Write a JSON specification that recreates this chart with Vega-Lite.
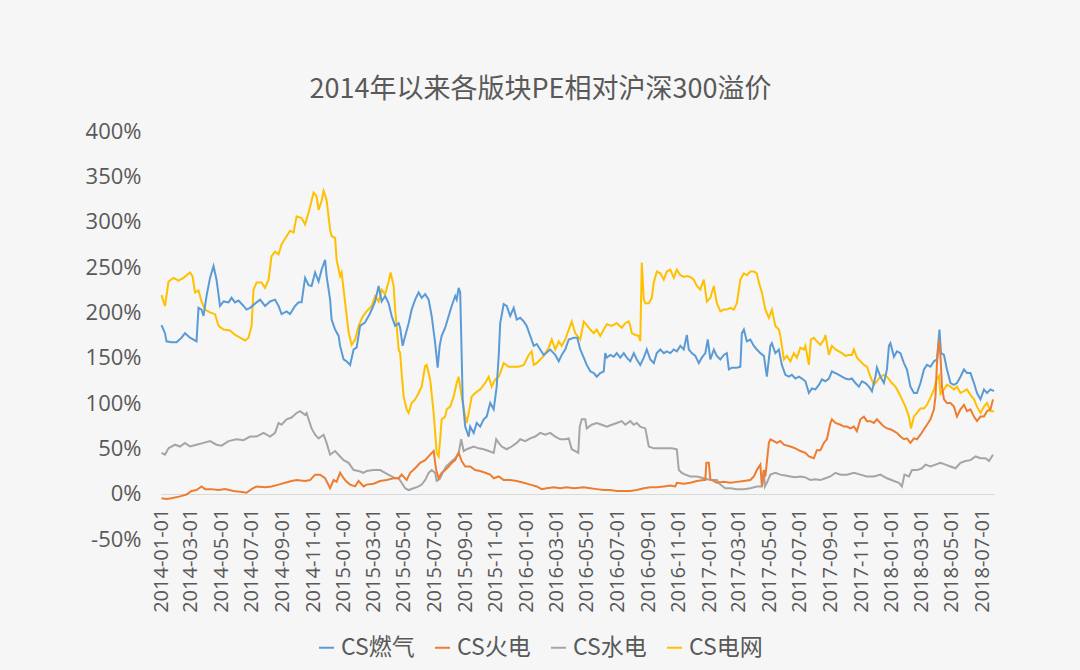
{
"$schema": "https://vega.github.io/schema/vega-lite/v6.json",
"width": 833,
"height": 408,
"autosize": {"type": "none"},
"padding": {"left": 161, "top": 131, "right": 86, "bottom": 131},
"background": "#f6f6f6",
"title": {"text": "2014年以来各版块PE相对沪深300溢价", "fontSize": 27, "font": "Noto Sans CJK SC", "fontWeight": "normal", "color": "#595959", "anchor": "middle", "dx": -37, "dy": 31, "offset": 20, "baseline": "bottom"},
"config": {"view": {"stroke": null}, "axis": {"grid": false, "ticks": false, "labelColor": "#595959"}},
"data": {"values": [
{"d":"2014-01-02","s":"CS电网","v":219},{"d":"2014-01-09","s":"CS电网","v":207},{"d":"2014-01-16","s":"CS电网","v":234},{"d":"2014-01-26","s":"CS电网","v":238},{"d":"2014-02-05","s":"CS电网","v":235},{"d":"2014-02-15","s":"CS电网","v":238},{"d":"2014-02-28","s":"CS电网","v":244},{"d":"2014-03-05","s":"CS电网","v":240},{"d":"2014-03-10","s":"CS电网","v":222},{"d":"2014-03-17","s":"CS电网","v":224},{"d":"2014-03-23","s":"CS电网","v":212},{"d":"2014-03-30","s":"CS电网","v":203},{"d":"2014-04-09","s":"CS电网","v":200},{"d":"2014-04-19","s":"CS电网","v":198},{"d":"2014-04-26","s":"CS电网","v":185},{"d":"2014-05-06","s":"CS电网","v":181},{"d":"2014-05-19","s":"CS电网","v":180},{"d":"2014-05-29","s":"CS电网","v":175},{"d":"2014-06-08","s":"CS电网","v":172},{"d":"2014-06-18","s":"CS电网","v":169},{"d":"2014-06-25","s":"CS电网","v":172},{"d":"2014-07-01","s":"CS电网","v":185},{"d":"2014-07-05","s":"CS电网","v":225},{"d":"2014-07-11","s":"CS电网","v":233},{"d":"2014-07-21","s":"CS电网","v":233},{"d":"2014-07-28","s":"CS电网","v":227},{"d":"2014-08-04","s":"CS电网","v":236},{"d":"2014-08-10","s":"CS电网","v":262},{"d":"2014-08-17","s":"CS电网","v":267},{"d":"2014-08-24","s":"CS电网","v":264},{"d":"2014-08-30","s":"CS电网","v":275},{"d":"2014-09-09","s":"CS电网","v":284},{"d":"2014-09-16","s":"CS电网","v":290},{"d":"2014-09-23","s":"CS电网","v":288},{"d":"2014-09-29","s":"CS电网","v":306},{"d":"2014-10-09","s":"CS电网","v":304},{"d":"2014-10-16","s":"CS电网","v":297},{"d":"2014-10-23","s":"CS电网","v":310},{"d":"2014-11-02","s":"CS电网","v":332},{"d":"2014-11-08","s":"CS电网","v":328},{"d":"2014-11-12","s":"CS电网","v":313},{"d":"2014-11-18","s":"CS电网","v":323},{"d":"2014-11-22","s":"CS电网","v":334},{"d":"2014-11-28","s":"CS电网","v":324},{"d":"2014-12-05","s":"CS电网","v":291},{"d":"2014-12-08","s":"CS电网","v":284},{"d":"2014-12-15","s":"CS电网","v":282},{"d":"2014-12-18","s":"CS电网","v":258},{"d":"2014-12-25","s":"CS电网","v":240},{"d":"2014-12-28","s":"CS电网","v":244},{"d":"2015-01-04","s":"CS电网","v":211},{"d":"2015-01-11","s":"CS电网","v":178},{"d":"2015-01-17","s":"CS电网","v":164},{"d":"2015-01-24","s":"CS电网","v":170},{"d":"2015-01-31","s":"CS电网","v":185},{"d":"2015-02-08","s":"CS电网","v":195},{"d":"2015-02-16","s":"CS电网","v":201},{"d":"2015-02-26","s":"CS电网","v":207},{"d":"2015-03-05","s":"CS电网","v":218},{"d":"2015-03-12","s":"CS电网","v":212},{"d":"2015-03-18","s":"CS电网","v":225},{"d":"2015-03-25","s":"CS电网","v":220},{"d":"2015-04-01","s":"CS电网","v":234},{"d":"2015-04-05","s":"CS电网","v":244},{"d":"2015-04-11","s":"CS电网","v":229},{"d":"2015-04-14","s":"CS电网","v":203},{"d":"2015-04-17","s":"CS电网","v":185},{"d":"2015-04-21","s":"CS电网","v":159},{"d":"2015-04-24","s":"CS电网","v":155},{"d":"2015-04-27","s":"CS电网","v":133},{"d":"2015-05-01","s":"CS电网","v":107},{"d":"2015-05-07","s":"CS电网","v":93},{"d":"2015-05-11","s":"CS电网","v":89},{"d":"2015-05-17","s":"CS电网","v":100},{"d":"2015-05-24","s":"CS电网","v":104},{"d":"2015-05-31","s":"CS电网","v":111},{"d":"2015-06-06","s":"CS电网","v":118},{"d":"2015-06-13","s":"CS电网","v":141},{"d":"2015-06-16","s":"CS电网","v":142},{"d":"2015-06-23","s":"CS电网","v":126},{"d":"2015-06-30","s":"CS电网","v":89},{"d":"2015-07-03","s":"CS电网","v":67},{"d":"2015-07-06","s":"CS电网","v":45},{"d":"2015-07-10","s":"CS电网","v":41},{"d":"2015-07-13","s":"CS电网","v":60},{"d":"2015-07-16","s":"CS电网","v":82},{"d":"2015-07-23","s":"CS电网","v":85},{"d":"2015-07-26","s":"CS电网","v":93},{"d":"2015-08-02","s":"CS电网","v":96},{"d":"2015-08-09","s":"CS电网","v":107},{"d":"2015-08-15","s":"CS电网","v":122},{"d":"2015-08-19","s":"CS电网","v":129},{"d":"2015-08-22","s":"CS电网","v":118},{"d":"2015-08-25","s":"CS电网","v":107},{"d":"2015-09-01","s":"CS电网","v":85},{"d":"2015-09-04","s":"CS电网","v":78},{"d":"2015-09-08","s":"CS电网","v":89},{"d":"2015-09-14","s":"CS电网","v":107},{"d":"2015-09-21","s":"CS电网","v":111},{"d":"2015-10-01","s":"CS电网","v":115},{"d":"2015-10-11","s":"CS电网","v":122},{"d":"2015-10-18","s":"CS电网","v":129},{"d":"2015-10-24","s":"CS电网","v":118},{"d":"2015-10-31","s":"CS电网","v":126},{"d":"2015-11-07","s":"CS电网","v":129},{"d":"2015-11-10","s":"CS电网","v":133},{"d":"2015-11-17","s":"CS电网","v":144},{"d":"2015-11-27","s":"CS电网","v":140},{"d":"2015-12-07","s":"CS电网","v":140},{"d":"2015-12-17","s":"CS电网","v":140},{"d":"2015-12-27","s":"CS电网","v":142},{"d":"2016-01-06","s":"CS电网","v":153},{"d":"2016-01-12","s":"CS电网","v":157},{"d":"2016-01-16","s":"CS电网","v":142},{"d":"2016-01-22","s":"CS电网","v":144},{"d":"2016-01-29","s":"CS电网","v":148},{"d":"2016-02-05","s":"CS电网","v":152},{"d":"2016-02-15","s":"CS电网","v":161},{"d":"2016-02-21","s":"CS电网","v":170},{"d":"2016-02-28","s":"CS电网","v":159},{"d":"2016-03-06","s":"CS电网","v":168},{"d":"2016-03-12","s":"CS电网","v":163},{"d":"2016-03-19","s":"CS电网","v":170},{"d":"2016-03-26","s":"CS电网","v":181},{"d":"2016-04-01","s":"CS电网","v":190},{"d":"2016-04-08","s":"CS电网","v":177},{"d":"2016-04-15","s":"CS电网","v":172},{"d":"2016-04-18","s":"CS电网","v":170},{"d":"2016-04-25","s":"CS电网","v":190},{"d":"2016-05-01","s":"CS电网","v":186},{"d":"2016-05-08","s":"CS电网","v":181},{"d":"2016-05-15","s":"CS电网","v":177},{"d":"2016-05-21","s":"CS电网","v":181},{"d":"2016-05-28","s":"CS电网","v":174},{"d":"2016-06-04","s":"CS电网","v":181},{"d":"2016-06-10","s":"CS电网","v":187},{"d":"2016-06-20","s":"CS电网","v":185},{"d":"2016-06-30","s":"CS电网","v":188},{"d":"2016-07-10","s":"CS电网","v":183},{"d":"2016-07-17","s":"CS电网","v":188},{"d":"2016-07-24","s":"CS电网","v":190},{"d":"2016-07-27","s":"CS电网","v":185},{"d":"2016-07-30","s":"CS电网","v":177},{"d":"2016-08-06","s":"CS电网","v":175},{"d":"2016-08-13","s":"CS电网","v":174},{"d":"2016-08-16","s":"CS电网","v":168},{"d":"2016-08-19","s":"CS电网","v":255},{"d":"2016-08-23","s":"CS电网","v":214},{"d":"2016-08-26","s":"CS电网","v":210},{"d":"2016-09-02","s":"CS电网","v":210},{"d":"2016-09-08","s":"CS电网","v":216},{"d":"2016-09-12","s":"CS电网","v":233},{"d":"2016-09-18","s":"CS电网","v":245},{"d":"2016-09-25","s":"CS电网","v":243},{"d":"2016-10-02","s":"CS电网","v":236},{"d":"2016-10-08","s":"CS电网","v":245},{"d":"2016-10-15","s":"CS电网","v":247},{"d":"2016-10-22","s":"CS电网","v":238},{"d":"2016-10-28","s":"CS电网","v":247},{"d":"2016-11-04","s":"CS电网","v":241},{"d":"2016-11-11","s":"CS电网","v":239},{"d":"2016-11-17","s":"CS电网","v":240},{"d":"2016-11-24","s":"CS电网","v":239},{"d":"2016-12-01","s":"CS电网","v":236},{"d":"2016-12-07","s":"CS电网","v":229},{"d":"2016-12-14","s":"CS电网","v":225},{"d":"2016-12-21","s":"CS电网","v":236},{"d":"2016-12-27","s":"CS电网","v":212},{"d":"2017-01-03","s":"CS电网","v":216},{"d":"2017-01-10","s":"CS电网","v":229},{"d":"2017-01-16","s":"CS电网","v":210},{"d":"2017-01-23","s":"CS电网","v":201},{"d":"2017-01-30","s":"CS电网","v":203},{"d":"2017-02-05","s":"CS电网","v":203},{"d":"2017-02-12","s":"CS电网","v":205},{"d":"2017-02-19","s":"CS电网","v":203},{"d":"2017-02-25","s":"CS电网","v":210},{"d":"2017-03-04","s":"CS电网","v":236},{"d":"2017-03-11","s":"CS电网","v":243},{"d":"2017-03-17","s":"CS电网","v":241},{"d":"2017-03-24","s":"CS电网","v":245},{"d":"2017-03-31","s":"CS电网","v":245},{"d":"2017-04-06","s":"CS电网","v":243},{"d":"2017-04-10","s":"CS电网","v":233},{"d":"2017-04-16","s":"CS电网","v":222},{"d":"2017-04-23","s":"CS电网","v":203},{"d":"2017-04-30","s":"CS电网","v":194},{"d":"2017-05-06","s":"CS电网","v":203},{"d":"2017-05-13","s":"CS电网","v":185},{"d":"2017-05-20","s":"CS电网","v":181},{"d":"2017-05-23","s":"CS电网","v":174},{"d":"2017-05-26","s":"CS电网","v":163},{"d":"2017-05-30","s":"CS电网","v":148},{"d":"2017-06-05","s":"CS电网","v":152},{"d":"2017-06-12","s":"CS电网","v":146},{"d":"2017-06-19","s":"CS电网","v":155},{"d":"2017-06-25","s":"CS电网","v":150},{"d":"2017-07-02","s":"CS电网","v":161},{"d":"2017-07-09","s":"CS电网","v":159},{"d":"2017-07-12","s":"CS电网","v":163},{"d":"2017-07-19","s":"CS电网","v":142},{"d":"2017-07-23","s":"CS电网","v":170},{"d":"2017-07-29","s":"CS电网","v":172},{"d":"2017-08-04","s":"CS电网","v":168},{"d":"2017-08-11","s":"CS电网","v":164},{"d":"2017-08-18","s":"CS电网","v":170},{"d":"2017-08-21","s":"CS电网","v":175},{"d":"2017-08-28","s":"CS电网","v":153},{"d":"2017-09-03","s":"CS电网","v":163},{"d":"2017-09-10","s":"CS电网","v":159},{"d":"2017-09-17","s":"CS电网","v":157},{"d":"2017-09-23","s":"CS电网","v":155},{"d":"2017-09-30","s":"CS电网","v":152},{"d":"2017-10-07","s":"CS电网","v":153},{"d":"2017-10-13","s":"CS电网","v":153},{"d":"2017-10-17","s":"CS电网","v":159},{"d":"2017-10-23","s":"CS电网","v":150},{"d":"2017-10-30","s":"CS电网","v":146},{"d":"2017-11-06","s":"CS电网","v":142},{"d":"2017-11-12","s":"CS电网","v":140},{"d":"2017-11-19","s":"CS电网","v":129},{"d":"2017-11-26","s":"CS电网","v":120},{"d":"2017-12-02","s":"CS电网","v":124},{"d":"2017-12-09","s":"CS电网","v":129},{"d":"2017-12-16","s":"CS电网","v":131},{"d":"2017-12-22","s":"CS电网","v":129},{"d":"2018-01-01","s":"CS电网","v":122},{"d":"2018-01-08","s":"CS电网","v":118},{"d":"2018-01-15","s":"CS电网","v":111},{"d":"2018-01-21","s":"CS电网","v":104},{"d":"2018-01-28","s":"CS电网","v":96},{"d":"2018-02-04","s":"CS电网","v":85},{"d":"2018-02-08","s":"CS电网","v":72},{"d":"2018-02-14","s":"CS电网","v":85},{"d":"2018-02-20","s":"CS电网","v":89},{"d":"2018-02-27","s":"CS电网","v":94},{"d":"2018-03-06","s":"CS电网","v":94},{"d":"2018-03-12","s":"CS电网","v":98},{"d":"2018-03-19","s":"CS电网","v":106},{"d":"2018-03-26","s":"CS电网","v":115},{"d":"2018-03-31","s":"CS电网","v":126},{"d":"2018-04-05","s":"CS电网","v":130},{"d":"2018-04-08","s":"CS电网","v":110},{"d":"2018-04-15","s":"CS电网","v":115},{"d":"2018-04-21","s":"CS电网","v":120},{"d":"2018-04-28","s":"CS电网","v":118},{"d":"2018-05-05","s":"CS电网","v":115},{"d":"2018-05-11","s":"CS电网","v":118},{"d":"2018-05-18","s":"CS电网","v":111},{"d":"2018-05-25","s":"CS电网","v":113},{"d":"2018-05-31","s":"CS电网","v":115},{"d":"2018-06-07","s":"CS电网","v":109},{"d":"2018-06-14","s":"CS电网","v":104},{"d":"2018-06-20","s":"CS电网","v":96},{"d":"2018-06-27","s":"CS电网","v":89},{"d":"2018-07-04","s":"CS电网","v":96},{"d":"2018-07-10","s":"CS电网","v":100},{"d":"2018-07-17","s":"CS电网","v":91},{"d":"2018-07-24","s":"CS电网","v":91},
{"d":"2014-01-02","s":"CS燃气","v":186},{"d":"2014-01-09","s":"CS燃气","v":177},{"d":"2014-01-12","s":"CS燃气","v":168},{"d":"2014-01-22","s":"CS燃气","v":167},{"d":"2014-02-01","s":"CS燃气","v":167},{"d":"2014-02-11","s":"CS燃气","v":172},{"d":"2014-02-18","s":"CS燃气","v":177},{"d":"2014-02-28","s":"CS燃气","v":172},{"d":"2014-03-13","s":"CS燃气","v":168},{"d":"2014-03-17","s":"CS燃气","v":205},{"d":"2014-03-23","s":"CS燃气","v":203},{"d":"2014-03-27","s":"CS燃气","v":196},{"d":"2014-04-02","s":"CS燃气","v":218},{"d":"2014-04-09","s":"CS燃气","v":238},{"d":"2014-04-16","s":"CS燃气","v":251},{"d":"2014-04-22","s":"CS燃气","v":236},{"d":"2014-04-29","s":"CS燃气","v":207},{"d":"2014-05-06","s":"CS燃气","v":212},{"d":"2014-05-16","s":"CS燃气","v":211},{"d":"2014-05-22","s":"CS燃气","v":216},{"d":"2014-05-29","s":"CS燃气","v":211},{"d":"2014-06-05","s":"CS燃气","v":213},{"d":"2014-06-15","s":"CS燃气","v":207},{"d":"2014-06-21","s":"CS燃气","v":203},{"d":"2014-06-28","s":"CS燃气","v":205},{"d":"2014-07-11","s":"CS燃气","v":211},{"d":"2014-07-18","s":"CS燃气","v":214},{"d":"2014-07-28","s":"CS燃气","v":207},{"d":"2014-08-07","s":"CS燃气","v":212},{"d":"2014-08-17","s":"CS燃气","v":214},{"d":"2014-08-24","s":"CS燃气","v":207},{"d":"2014-08-30","s":"CS燃气","v":198},{"d":"2014-09-09","s":"CS燃气","v":201},{"d":"2014-09-16","s":"CS燃气","v":198},{"d":"2014-09-26","s":"CS燃气","v":207},{"d":"2014-10-03","s":"CS燃气","v":211},{"d":"2014-10-09","s":"CS燃气","v":211},{"d":"2014-10-16","s":"CS燃气","v":238},{"d":"2014-10-23","s":"CS燃气","v":230},{"d":"2014-10-29","s":"CS燃气","v":229},{"d":"2014-11-05","s":"CS燃气","v":244},{"d":"2014-11-12","s":"CS燃气","v":234},{"d":"2014-11-18","s":"CS燃气","v":247},{"d":"2014-11-25","s":"CS燃气","v":258},{"d":"2014-11-28","s":"CS燃气","v":240},{"d":"2014-12-05","s":"CS燃气","v":214},{"d":"2014-12-08","s":"CS燃气","v":192},{"d":"2014-12-15","s":"CS燃气","v":181},{"d":"2014-12-22","s":"CS燃气","v":174},{"d":"2014-12-25","s":"CS燃气","v":163},{"d":"2015-01-01","s":"CS燃气","v":148},{"d":"2015-01-07","s":"CS燃气","v":146},{"d":"2015-01-14","s":"CS燃气","v":142},{"d":"2015-01-21","s":"CS燃气","v":159},{"d":"2015-01-27","s":"CS燃气","v":161},{"d":"2015-02-03","s":"CS燃气","v":185},{"d":"2015-02-13","s":"CS燃气","v":189},{"d":"2015-02-23","s":"CS燃气","v":199},{"d":"2015-03-05","s":"CS燃气","v":212},{"d":"2015-03-12","s":"CS燃气","v":229},{"d":"2015-03-18","s":"CS燃气","v":212},{"d":"2015-03-25","s":"CS燃气","v":218},{"d":"2015-04-01","s":"CS燃气","v":210},{"d":"2015-04-07","s":"CS燃气","v":196},{"d":"2015-04-14","s":"CS燃气","v":185},{"d":"2015-04-21","s":"CS燃气","v":188},{"d":"2015-04-24","s":"CS燃气","v":183},{"d":"2015-04-29","s":"CS燃气","v":163},{"d":"2015-05-04","s":"CS燃气","v":174},{"d":"2015-05-11","s":"CS燃气","v":188},{"d":"2015-05-17","s":"CS燃气","v":203},{"d":"2015-05-24","s":"CS燃气","v":214},{"d":"2015-05-31","s":"CS燃气","v":222},{"d":"2015-06-06","s":"CS燃气","v":216},{"d":"2015-06-13","s":"CS燃气","v":220},{"d":"2015-06-20","s":"CS燃气","v":214},{"d":"2015-06-26","s":"CS燃气","v":196},{"d":"2015-07-03","s":"CS燃气","v":166},{"d":"2015-07-08","s":"CS燃气","v":139},{"d":"2015-07-12","s":"CS燃气","v":163},{"d":"2015-07-16","s":"CS燃气","v":174},{"d":"2015-07-23","s":"CS燃气","v":183},{"d":"2015-07-30","s":"CS燃气","v":196},{"d":"2015-08-05","s":"CS燃气","v":207},{"d":"2015-08-12","s":"CS燃气","v":218},{"d":"2015-08-15","s":"CS燃气","v":214},{"d":"2015-08-19","s":"CS燃气","v":227},{"d":"2015-08-22","s":"CS燃气","v":222},{"d":"2015-08-25","s":"CS燃气","v":152},{"d":"2015-08-27","s":"CS燃气","v":104},{"d":"2015-09-01","s":"CS燃气","v":74},{"d":"2015-09-08","s":"CS燃气","v":63},{"d":"2015-09-11","s":"CS燃气","v":74},{"d":"2015-09-18","s":"CS燃气","v":67},{"d":"2015-09-24","s":"CS燃气","v":78},{"d":"2015-10-01","s":"CS燃气","v":74},{"d":"2015-10-08","s":"CS燃气","v":82},{"d":"2015-10-14","s":"CS燃气","v":85},{"d":"2015-10-21","s":"CS燃气","v":100},{"d":"2015-10-28","s":"CS燃气","v":93},{"d":"2015-11-03","s":"CS燃气","v":118},{"d":"2015-11-07","s":"CS燃气","v":152},{"d":"2015-11-10","s":"CS燃气","v":188},{"d":"2015-11-17","s":"CS燃气","v":209},{"d":"2015-11-23","s":"CS燃气","v":207},{"d":"2015-11-30","s":"CS燃气","v":196},{"d":"2015-12-07","s":"CS燃气","v":205},{"d":"2015-12-13","s":"CS燃气","v":192},{"d":"2015-12-20","s":"CS燃气","v":194},{"d":"2015-12-27","s":"CS燃气","v":190},{"d":"2016-01-02","s":"CS燃气","v":185},{"d":"2016-01-09","s":"CS燃气","v":174},{"d":"2016-01-16","s":"CS燃气","v":163},{"d":"2016-01-22","s":"CS燃气","v":165},{"d":"2016-01-29","s":"CS燃气","v":159},{"d":"2016-02-05","s":"CS燃气","v":153},{"d":"2016-02-18","s":"CS燃气","v":159},{"d":"2016-02-28","s":"CS燃气","v":153},{"d":"2016-03-06","s":"CS燃气","v":146},{"d":"2016-03-12","s":"CS燃气","v":153},{"d":"2016-03-19","s":"CS燃气","v":159},{"d":"2016-03-26","s":"CS燃气","v":170},{"d":"2016-04-05","s":"CS燃气","v":172},{"d":"2016-04-12","s":"CS燃气","v":172},{"d":"2016-04-18","s":"CS燃气","v":159},{"d":"2016-04-25","s":"CS燃气","v":150},{"d":"2016-05-01","s":"CS燃气","v":142},{"d":"2016-05-08","s":"CS燃气","v":135},{"d":"2016-05-15","s":"CS燃气","v":133},{"d":"2016-05-21","s":"CS燃气","v":129},{"d":"2016-05-28","s":"CS燃气","v":133},{"d":"2016-06-04","s":"CS燃气","v":135},{"d":"2016-06-07","s":"CS燃气","v":155},{"d":"2016-06-10","s":"CS燃气","v":150},{"d":"2016-06-17","s":"CS燃气","v":153},{"d":"2016-06-24","s":"CS燃气","v":151},{"d":"2016-06-30","s":"CS燃气","v":155},{"d":"2016-07-07","s":"CS燃气","v":150},{"d":"2016-07-14","s":"CS燃气","v":155},{"d":"2016-07-20","s":"CS燃气","v":150},{"d":"2016-07-27","s":"CS燃气","v":146},{"d":"2016-08-03","s":"CS燃气","v":155},{"d":"2016-08-09","s":"CS燃气","v":148},{"d":"2016-08-16","s":"CS燃气","v":142},{"d":"2016-08-23","s":"CS燃气","v":150},{"d":"2016-08-29","s":"CS燃气","v":159},{"d":"2016-09-05","s":"CS燃气","v":148},{"d":"2016-09-12","s":"CS燃气","v":144},{"d":"2016-09-18","s":"CS燃气","v":155},{"d":"2016-09-25","s":"CS燃气","v":159},{"d":"2016-10-02","s":"CS燃气","v":155},{"d":"2016-10-08","s":"CS燃气","v":157},{"d":"2016-10-15","s":"CS燃气","v":155},{"d":"2016-10-22","s":"CS燃气","v":159},{"d":"2016-10-28","s":"CS燃气","v":157},{"d":"2016-11-04","s":"CS燃气","v":163},{"d":"2016-11-11","s":"CS燃气","v":159},{"d":"2016-11-17","s":"CS燃气","v":175},{"d":"2016-11-21","s":"CS燃气","v":159},{"d":"2016-11-27","s":"CS燃气","v":155},{"d":"2016-12-04","s":"CS燃气","v":152},{"d":"2016-12-11","s":"CS燃气","v":144},{"d":"2016-12-17","s":"CS燃气","v":150},{"d":"2016-12-24","s":"CS燃气","v":155},{"d":"2016-12-29","s":"CS燃气","v":170},{"d":"2017-01-03","s":"CS燃气","v":148},{"d":"2017-01-10","s":"CS燃气","v":159},{"d":"2017-01-16","s":"CS燃气","v":152},{"d":"2017-01-23","s":"CS燃气","v":148},{"d":"2017-01-30","s":"CS燃气","v":153},{"d":"2017-02-05","s":"CS燃气","v":155},{"d":"2017-02-09","s":"CS燃气","v":137},{"d":"2017-02-15","s":"CS燃气","v":139},{"d":"2017-02-25","s":"CS燃气","v":139},{"d":"2017-03-04","s":"CS燃气","v":140},{"d":"2017-03-07","s":"CS燃气","v":177},{"d":"2017-03-11","s":"CS燃气","v":181},{"d":"2017-03-17","s":"CS燃气","v":168},{"d":"2017-03-24","s":"CS燃气","v":170},{"d":"2017-03-31","s":"CS燃气","v":163},{"d":"2017-04-06","s":"CS燃气","v":159},{"d":"2017-04-13","s":"CS燃气","v":155},{"d":"2017-04-20","s":"CS燃气","v":152},{"d":"2017-04-26","s":"CS燃气","v":129},{"d":"2017-05-03","s":"CS燃气","v":163},{"d":"2017-05-06","s":"CS燃气","v":166},{"d":"2017-05-13","s":"CS燃气","v":155},{"d":"2017-05-20","s":"CS燃气","v":159},{"d":"2017-05-26","s":"CS燃气","v":142},{"d":"2017-06-02","s":"CS燃气","v":131},{"d":"2017-06-09","s":"CS燃气","v":129},{"d":"2017-06-15","s":"CS燃气","v":131},{"d":"2017-06-22","s":"CS燃气","v":127},{"d":"2017-06-29","s":"CS燃气","v":129},{"d":"2017-07-05","s":"CS燃气","v":127},{"d":"2017-07-12","s":"CS燃气","v":124},{"d":"2017-07-19","s":"CS燃气","v":111},{"d":"2017-07-25","s":"CS燃气","v":116},{"d":"2017-08-01","s":"CS燃气","v":115},{"d":"2017-08-08","s":"CS燃气","v":120},{"d":"2017-08-14","s":"CS燃气","v":126},{"d":"2017-08-21","s":"CS燃气","v":124},{"d":"2017-08-28","s":"CS燃气","v":127},{"d":"2017-09-03","s":"CS燃气","v":135},{"d":"2017-09-10","s":"CS燃气","v":133},{"d":"2017-09-17","s":"CS燃气","v":131},{"d":"2017-09-23","s":"CS燃气","v":129},{"d":"2017-09-30","s":"CS燃气","v":127},{"d":"2017-10-07","s":"CS燃气","v":126},{"d":"2017-10-13","s":"CS燃气","v":127},{"d":"2017-10-20","s":"CS燃气","v":122},{"d":"2017-10-27","s":"CS燃气","v":118},{"d":"2017-11-02","s":"CS燃气","v":124},{"d":"2017-11-09","s":"CS燃气","v":122},{"d":"2017-11-16","s":"CS燃气","v":118},{"d":"2017-11-22","s":"CS燃气","v":113},{"d":"2017-11-29","s":"CS燃气","v":129},{"d":"2017-12-02","s":"CS燃气","v":139},{"d":"2017-12-09","s":"CS燃气","v":129},{"d":"2017-12-16","s":"CS燃气","v":122},{"d":"2017-12-22","s":"CS燃气","v":137},{"d":"2017-12-26","s":"CS燃气","v":163},{"d":"2017-12-29","s":"CS燃气","v":166},{"d":"2018-01-05","s":"CS燃气","v":151},{"d":"2018-01-11","s":"CS燃气","v":157},{"d":"2018-01-18","s":"CS燃气","v":155},{"d":"2018-01-25","s":"CS燃气","v":144},{"d":"2018-01-31","s":"CS燃气","v":137},{"d":"2018-02-07","s":"CS燃气","v":118},{"d":"2018-02-14","s":"CS燃气","v":111},{"d":"2018-02-20","s":"CS燃气","v":111},{"d":"2018-02-27","s":"CS燃气","v":122},{"d":"2018-03-06","s":"CS燃气","v":137},{"d":"2018-03-12","s":"CS燃气","v":142},{"d":"2018-03-19","s":"CS燃气","v":140},{"d":"2018-03-26","s":"CS燃气","v":146},{"d":"2018-04-01","s":"CS燃气","v":148},{"d":"2018-04-06","s":"CS燃气","v":181},{"d":"2018-04-09","s":"CS燃气","v":155},{"d":"2018-04-15","s":"CS燃气","v":153},{"d":"2018-04-21","s":"CS燃气","v":137},{"d":"2018-04-28","s":"CS燃气","v":122},{"d":"2018-05-05","s":"CS燃气","v":120},{"d":"2018-05-11","s":"CS燃气","v":122},{"d":"2018-05-18","s":"CS燃气","v":129},{"d":"2018-05-25","s":"CS燃气","v":137},{"d":"2018-05-31","s":"CS燃气","v":133},{"d":"2018-06-07","s":"CS燃气","v":133},{"d":"2018-06-14","s":"CS燃气","v":122},{"d":"2018-06-20","s":"CS燃气","v":111},{"d":"2018-06-27","s":"CS燃气","v":104},{"d":"2018-07-04","s":"CS燃气","v":115},{"d":"2018-07-10","s":"CS燃气","v":111},{"d":"2018-07-17","s":"CS燃气","v":115},{"d":"2018-07-24","s":"CS燃气","v":113},
{"d":"2014-01-02","s":"CS水电","v":45},{"d":"2014-01-09","s":"CS水电","v":43},{"d":"2014-01-16","s":"CS水电","v":50},{"d":"2014-01-29","s":"CS水电","v":54},{"d":"2014-02-08","s":"CS水电","v":52},{"d":"2014-02-18","s":"CS水电","v":56},{"d":"2014-02-28","s":"CS水电","v":52},{"d":"2014-03-13","s":"CS水电","v":54},{"d":"2014-03-27","s":"CS水电","v":56},{"d":"2014-04-09","s":"CS水电","v":58},{"d":"2014-04-22","s":"CS水电","v":54},{"d":"2014-05-02","s":"CS水电","v":53},{"d":"2014-05-16","s":"CS水电","v":58},{"d":"2014-06-01","s":"CS水电","v":60},{"d":"2014-06-15","s":"CS水电","v":59},{"d":"2014-06-28","s":"CS水电","v":63},{"d":"2014-07-11","s":"CS水电","v":63},{"d":"2014-07-25","s":"CS水电","v":67},{"d":"2014-08-07","s":"CS水电","v":63},{"d":"2014-08-17","s":"CS水电","v":67},{"d":"2014-08-24","s":"CS水电","v":78},{"d":"2014-08-30","s":"CS水电","v":76},{"d":"2014-09-09","s":"CS水电","v":82},{"d":"2014-09-19","s":"CS水电","v":84},{"d":"2014-09-29","s":"CS水电","v":89},{"d":"2014-10-06","s":"CS水电","v":91},{"d":"2014-10-16","s":"CS水电","v":87},{"d":"2014-10-19","s":"CS水电","v":89},{"d":"2014-10-23","s":"CS水电","v":82},{"d":"2014-10-29","s":"CS水电","v":72},{"d":"2014-11-05","s":"CS水电","v":65},{"d":"2014-11-12","s":"CS水电","v":61},{"d":"2014-11-22","s":"CS水电","v":65},{"d":"2014-11-28","s":"CS水电","v":56},{"d":"2014-12-05","s":"CS水电","v":43},{"d":"2014-12-15","s":"CS水电","v":47},{"d":"2014-12-25","s":"CS水电","v":41},{"d":"2015-01-01","s":"CS水电","v":37},{"d":"2015-01-11","s":"CS水电","v":34},{"d":"2015-01-21","s":"CS水电","v":26},{"d":"2015-01-31","s":"CS水电","v":25},{"d":"2015-02-10","s":"CS水电","v":23},{"d":"2015-02-16","s":"CS水电","v":25},{"d":"2015-03-02","s":"CS水电","v":26},{"d":"2015-03-15","s":"CS水电","v":26},{"d":"2015-03-25","s":"CS水电","v":23},{"d":"2015-04-04","s":"CS水电","v":20},{"d":"2015-04-14","s":"CS水电","v":17},{"d":"2015-04-21","s":"CS水电","v":17},{"d":"2015-04-27","s":"CS水电","v":12},{"d":"2015-05-04","s":"CS水电","v":6},{"d":"2015-05-11","s":"CS水电","v":4},{"d":"2015-05-21","s":"CS水电","v":6},{"d":"2015-05-31","s":"CS水电","v":8},{"d":"2015-06-06","s":"CS水电","v":10},{"d":"2015-06-13","s":"CS水电","v":15},{"d":"2015-06-20","s":"CS水电","v":23},{"d":"2015-06-26","s":"CS水电","v":26},{"d":"2015-07-03","s":"CS水电","v":23},{"d":"2015-07-06","s":"CS水电","v":14},{"d":"2015-07-12","s":"CS水电","v":16},{"d":"2015-07-18","s":"CS水电","v":23},{"d":"2015-07-25","s":"CS水电","v":30},{"d":"2015-08-02","s":"CS水电","v":34},{"d":"2015-08-12","s":"CS水电","v":39},{"d":"2015-08-19","s":"CS水电","v":45},{"d":"2015-08-24","s":"CS水电","v":60},{"d":"2015-08-29","s":"CS水电","v":47},{"d":"2015-09-04","s":"CS水电","v":49},{"d":"2015-09-18","s":"CS水电","v":52},{"d":"2015-09-28","s":"CS水电","v":50},{"d":"2015-10-08","s":"CS水电","v":49},{"d":"2015-10-18","s":"CS水电","v":47},{"d":"2015-10-28","s":"CS水电","v":45},{"d":"2015-11-02","s":"CS水电","v":60},{"d":"2015-11-07","s":"CS水电","v":56},{"d":"2015-11-13","s":"CS水电","v":52},{"d":"2015-11-23","s":"CS水电","v":49},{"d":"2015-12-03","s":"CS水电","v":52},{"d":"2015-12-13","s":"CS水电","v":56},{"d":"2015-12-20","s":"CS水电","v":60},{"d":"2015-12-30","s":"CS水电","v":58},{"d":"2016-01-09","s":"CS水电","v":61},{"d":"2016-01-19","s":"CS水电","v":63},{"d":"2016-01-29","s":"CS水电","v":67},{"d":"2016-02-08","s":"CS水电","v":65},{"d":"2016-02-18","s":"CS水电","v":67},{"d":"2016-02-28","s":"CS水电","v":63},{"d":"2016-03-09","s":"CS水电","v":60},{"d":"2016-03-19","s":"CS水电","v":60},{"d":"2016-03-26","s":"CS水电","v":61},{"d":"2016-04-01","s":"CS水电","v":49},{"d":"2016-04-08","s":"CS水电","v":47},{"d":"2016-04-14","s":"CS水电","v":45},{"d":"2016-04-17","s":"CS水电","v":74},{"d":"2016-04-21","s":"CS水电","v":82},{"d":"2016-04-28","s":"CS水电","v":82},{"d":"2016-05-01","s":"CS水电","v":72},{"d":"2016-05-11","s":"CS水电","v":76},{"d":"2016-05-21","s":"CS水电","v":78},{"d":"2016-05-31","s":"CS水电","v":76},{"d":"2016-06-10","s":"CS水电","v":74},{"d":"2016-06-20","s":"CS水电","v":76},{"d":"2016-06-30","s":"CS水电","v":78},{"d":"2016-07-10","s":"CS水电","v":80},{"d":"2016-07-17","s":"CS水电","v":76},{"d":"2016-07-27","s":"CS水电","v":80},{"d":"2016-08-03","s":"CS水电","v":76},{"d":"2016-08-09","s":"CS水电","v":78},{"d":"2016-08-16","s":"CS水电","v":74},{"d":"2016-08-26","s":"CS水电","v":72},{"d":"2016-09-02","s":"CS水电","v":52},{"d":"2016-09-12","s":"CS水电","v":50},{"d":"2016-09-25","s":"CS水电","v":50},{"d":"2016-10-08","s":"CS水电","v":50},{"d":"2016-10-18","s":"CS水电","v":50},{"d":"2016-10-28","s":"CS水电","v":49},{"d":"2016-11-01","s":"CS水电","v":26},{"d":"2016-11-07","s":"CS水电","v":23},{"d":"2016-11-14","s":"CS水电","v":21},{"d":"2016-11-24","s":"CS水电","v":19},{"d":"2016-12-07","s":"CS水电","v":19},{"d":"2016-12-21","s":"CS水电","v":17},{"d":"2017-01-03","s":"CS水电","v":15},{"d":"2017-01-16","s":"CS水电","v":15},{"d":"2017-01-23","s":"CS水电","v":10},{"d":"2017-02-02","s":"CS水电","v":6},{"d":"2017-02-12","s":"CS水电","v":6},{"d":"2017-02-25","s":"CS水电","v":5},{"d":"2017-03-11","s":"CS水电","v":5},{"d":"2017-03-24","s":"CS水电","v":6},{"d":"2017-04-06","s":"CS水电","v":8},{"d":"2017-04-16","s":"CS水电","v":8},{"d":"2017-04-20","s":"CS水电","v":26},{"d":"2017-04-22","s":"CS水电","v":8},{"d":"2017-04-26","s":"CS水电","v":12},{"d":"2017-05-03","s":"CS水电","v":21},{"d":"2017-05-13","s":"CS水电","v":23},{"d":"2017-05-23","s":"CS水电","v":21},{"d":"2017-06-02","s":"CS水电","v":20},{"d":"2017-06-12","s":"CS水电","v":19},{"d":"2017-06-22","s":"CS水电","v":18},{"d":"2017-07-02","s":"CS水电","v":19},{"d":"2017-07-12","s":"CS水电","v":18},{"d":"2017-07-22","s":"CS水电","v":15},{"d":"2017-08-01","s":"CS水电","v":16},{"d":"2017-08-11","s":"CS水电","v":15},{"d":"2017-08-21","s":"CS水电","v":17},{"d":"2017-08-31","s":"CS水电","v":19},{"d":"2017-09-10","s":"CS水电","v":23},{"d":"2017-09-20","s":"CS水电","v":21},{"d":"2017-10-03","s":"CS水电","v":21},{"d":"2017-10-17","s":"CS水电","v":23},{"d":"2017-10-30","s":"CS水电","v":21},{"d":"2017-11-12","s":"CS水电","v":19},{"d":"2017-11-26","s":"CS水电","v":19},{"d":"2017-12-09","s":"CS水电","v":21},{"d":"2017-12-22","s":"CS水电","v":17},{"d":"2018-01-05","s":"CS水电","v":14},{"d":"2018-01-15","s":"CS水电","v":12},{"d":"2018-01-21","s":"CS水电","v":8},{"d":"2018-01-26","s":"CS水电","v":21},{"d":"2018-02-04","s":"CS水电","v":19},{"d":"2018-02-10","s":"CS水电","v":26},{"d":"2018-02-20","s":"CS水电","v":26},{"d":"2018-03-02","s":"CS水电","v":28},{"d":"2018-03-09","s":"CS水电","v":32},{"d":"2018-03-19","s":"CS水电","v":30},{"d":"2018-03-29","s":"CS水电","v":32},{"d":"2018-04-08","s":"CS水电","v":34},{"d":"2018-04-18","s":"CS水电","v":32},{"d":"2018-04-28","s":"CS水电","v":30},{"d":"2018-05-08","s":"CS水电","v":28},{"d":"2018-05-18","s":"CS水电","v":34},{"d":"2018-05-28","s":"CS水电","v":36},{"d":"2018-06-07","s":"CS水电","v":37},{"d":"2018-06-17","s":"CS水电","v":41},{"d":"2018-06-27","s":"CS水电","v":39},{"d":"2018-07-07","s":"CS水电","v":39},{"d":"2018-07-14","s":"CS水电","v":36},{"d":"2018-07-22","s":"CS水电","v":43},
{"d":"2014-01-02","s":"CS火电","v":-5},{"d":"2014-01-12","s":"CS火电","v":-6},{"d":"2014-01-22","s":"CS火电","v":-5},{"d":"2014-02-08","s":"CS火电","v":-3},{"d":"2014-02-21","s":"CS火电","v":-1},{"d":"2014-03-03","s":"CS火电","v":3},{"d":"2014-03-13","s":"CS火电","v":4},{"d":"2014-03-23","s":"CS火电","v":8},{"d":"2014-03-30","s":"CS火电","v":5},{"d":"2014-04-12","s":"CS火电","v":5},{"d":"2014-04-26","s":"CS火电","v":4},{"d":"2014-05-09","s":"CS火电","v":5},{"d":"2014-05-26","s":"CS火电","v":3},{"d":"2014-06-08","s":"CS火电","v":2},{"d":"2014-06-21","s":"CS火电","v":1},{"d":"2014-07-01","s":"CS火电","v":5},{"d":"2014-07-11","s":"CS火电","v":8},{"d":"2014-07-28","s":"CS火电","v":7},{"d":"2014-08-10","s":"CS火电","v":8},{"d":"2014-08-24","s":"CS火电","v":10},{"d":"2014-09-06","s":"CS火电","v":12},{"d":"2014-09-19","s":"CS火电","v":14},{"d":"2014-09-29","s":"CS火电","v":15},{"d":"2014-10-16","s":"CS火电","v":14},{"d":"2014-10-26","s":"CS火电","v":15},{"d":"2014-11-05","s":"CS火电","v":21},{"d":"2014-11-15","s":"CS火电","v":21},{"d":"2014-11-25","s":"CS火电","v":17},{"d":"2014-12-05","s":"CS火电","v":6},{"d":"2014-12-12","s":"CS火电","v":15},{"d":"2014-12-18","s":"CS火电","v":13},{"d":"2014-12-25","s":"CS火电","v":23},{"d":"2015-01-01","s":"CS火电","v":17},{"d":"2015-01-07","s":"CS火电","v":13},{"d":"2015-01-14","s":"CS火电","v":10},{"d":"2015-01-24","s":"CS火电","v":8},{"d":"2015-01-31","s":"CS火电","v":14},{"d":"2015-02-10","s":"CS火电","v":8},{"d":"2015-02-16","s":"CS火电","v":10},{"d":"2015-03-02","s":"CS火电","v":11},{"d":"2015-03-15","s":"CS火电","v":14},{"d":"2015-03-28","s":"CS火电","v":15},{"d":"2015-04-11","s":"CS火电","v":17},{"d":"2015-04-21","s":"CS火电","v":17},{"d":"2015-04-27","s":"CS火电","v":21},{"d":"2015-05-07","s":"CS火电","v":15},{"d":"2015-05-14","s":"CS火电","v":23},{"d":"2015-05-24","s":"CS火电","v":28},{"d":"2015-06-03","s":"CS火电","v":34},{"d":"2015-06-13","s":"CS火电","v":37},{"d":"2015-06-23","s":"CS火电","v":43},{"d":"2015-06-30","s":"CS火电","v":47},{"d":"2015-07-05","s":"CS火电","v":26},{"d":"2015-07-10","s":"CS火电","v":17},{"d":"2015-07-16","s":"CS火电","v":23},{"d":"2015-07-23","s":"CS火电","v":26},{"d":"2015-07-30","s":"CS火电","v":30},{"d":"2015-08-05","s":"CS火电","v":34},{"d":"2015-08-12","s":"CS火电","v":37},{"d":"2015-08-19","s":"CS火电","v":45},{"d":"2015-08-25","s":"CS火电","v":36},{"d":"2015-09-01","s":"CS火电","v":30},{"d":"2015-09-11","s":"CS火电","v":30},{"d":"2015-09-21","s":"CS火电","v":26},{"d":"2015-10-01","s":"CS火电","v":25},{"d":"2015-10-11","s":"CS火电","v":23},{"d":"2015-10-21","s":"CS火电","v":21},{"d":"2015-10-28","s":"CS火电","v":17},{"d":"2015-11-07","s":"CS火电","v":19},{"d":"2015-11-17","s":"CS火电","v":15},{"d":"2015-11-30","s":"CS火电","v":15},{"d":"2015-12-13","s":"CS火电","v":14},{"d":"2015-12-27","s":"CS火电","v":12},{"d":"2016-01-09","s":"CS火电","v":10},{"d":"2016-01-22","s":"CS火电","v":8},{"d":"2016-02-01","s":"CS火电","v":5},{"d":"2016-02-11","s":"CS火电","v":6},{"d":"2016-02-25","s":"CS火电","v":7},{"d":"2016-03-09","s":"CS火电","v":6},{"d":"2016-03-22","s":"CS火电","v":7},{"d":"2016-04-05","s":"CS火电","v":6},{"d":"2016-04-25","s":"CS火电","v":7},{"d":"2016-05-08","s":"CS火电","v":6},{"d":"2016-05-21","s":"CS火电","v":5},{"d":"2016-06-04","s":"CS火电","v":4},{"d":"2016-06-17","s":"CS火电","v":4},{"d":"2016-06-30","s":"CS火电","v":3},{"d":"2016-07-14","s":"CS火电","v":3},{"d":"2016-07-27","s":"CS火电","v":3},{"d":"2016-08-09","s":"CS火电","v":4},{"d":"2016-08-23","s":"CS火电","v":6},{"d":"2016-09-05","s":"CS火电","v":7},{"d":"2016-09-18","s":"CS火电","v":7},{"d":"2016-10-02","s":"CS火电","v":8},{"d":"2016-10-15","s":"CS火电","v":9},{"d":"2016-10-25","s":"CS火电","v":8},{"d":"2016-10-28","s":"CS火电","v":12},{"d":"2016-11-11","s":"CS火电","v":11},{"d":"2016-11-24","s":"CS火电","v":12},{"d":"2016-12-07","s":"CS火电","v":14},{"d":"2016-12-21","s":"CS火电","v":15},{"d":"2016-12-24","s":"CS火电","v":15},{"d":"2016-12-26","s":"CS火电","v":34},{"d":"2016-12-31","s":"CS火电","v":34},{"d":"2017-01-03","s":"CS火电","v":16},{"d":"2017-01-16","s":"CS火电","v":12},{"d":"2017-01-30","s":"CS火电","v":13},{"d":"2017-02-12","s":"CS火电","v":12},{"d":"2017-02-25","s":"CS火电","v":13},{"d":"2017-03-11","s":"CS火电","v":14},{"d":"2017-03-24","s":"CS火电","v":15},{"d":"2017-03-31","s":"CS火电","v":19},{"d":"2017-04-06","s":"CS火电","v":26},{"d":"2017-04-13","s":"CS火电","v":32},{"d":"2017-04-16","s":"CS火电","v":8},{"d":"2017-04-20","s":"CS火电","v":26},{"d":"2017-04-23","s":"CS火电","v":19},{"d":"2017-04-30","s":"CS火电","v":56},{"d":"2017-05-03","s":"CS火电","v":60},{"d":"2017-05-10","s":"CS火电","v":58},{"d":"2017-05-16","s":"CS火电","v":56},{"d":"2017-05-23","s":"CS火电","v":58},{"d":"2017-05-30","s":"CS火电","v":54},{"d":"2017-06-12","s":"CS火电","v":52},{"d":"2017-06-22","s":"CS火电","v":50},{"d":"2017-07-02","s":"CS火电","v":47},{"d":"2017-07-12","s":"CS火电","v":45},{"d":"2017-07-19","s":"CS火电","v":41},{"d":"2017-07-29","s":"CS火电","v":39},{"d":"2017-08-04","s":"CS火电","v":48},{"d":"2017-08-11","s":"CS火电","v":48},{"d":"2017-08-18","s":"CS火电","v":56},{"d":"2017-08-24","s":"CS火电","v":60},{"d":"2017-08-31","s":"CS火电","v":78},{"d":"2017-09-03","s":"CS火电","v":82},{"d":"2017-09-10","s":"CS火电","v":78},{"d":"2017-09-20","s":"CS火电","v":76},{"d":"2017-09-27","s":"CS火电","v":74},{"d":"2017-10-03","s":"CS火电","v":74},{"d":"2017-10-10","s":"CS火电","v":72},{"d":"2017-10-17","s":"CS火电","v":74},{"d":"2017-10-23","s":"CS火电","v":69},{"d":"2017-10-30","s":"CS火电","v":82},{"d":"2017-11-06","s":"CS火电","v":85},{"d":"2017-11-12","s":"CS火电","v":80},{"d":"2017-11-19","s":"CS火电","v":80},{"d":"2017-11-26","s":"CS火电","v":78},{"d":"2017-12-02","s":"CS火电","v":82},{"d":"2017-12-09","s":"CS火电","v":78},{"d":"2017-12-16","s":"CS火电","v":74},{"d":"2017-12-22","s":"CS火电","v":72},{"d":"2017-12-29","s":"CS火电","v":71},{"d":"2018-01-05","s":"CS火电","v":69},{"d":"2018-01-11","s":"CS火电","v":67},{"d":"2018-01-18","s":"CS火电","v":63},{"d":"2018-01-25","s":"CS火电","v":60},{"d":"2018-01-31","s":"CS火电","v":61},{"d":"2018-02-07","s":"CS火电","v":56},{"d":"2018-02-14","s":"CS火电","v":61},{"d":"2018-02-20","s":"CS火电","v":60},{"d":"2018-02-27","s":"CS火电","v":65},{"d":"2018-03-06","s":"CS火电","v":71},{"d":"2018-03-12","s":"CS火电","v":76},{"d":"2018-03-19","s":"CS火电","v":82},{"d":"2018-03-26","s":"CS火电","v":93},{"d":"2018-03-29","s":"CS火电","v":107},{"d":"2018-04-01","s":"CS火电","v":144},{"d":"2018-04-05","s":"CS火电","v":170},{"d":"2018-04-08","s":"CS火电","v":152},{"d":"2018-04-11","s":"CS火电","v":118},{"d":"2018-04-15","s":"CS火电","v":104},{"d":"2018-04-21","s":"CS火电","v":100},{"d":"2018-04-28","s":"CS火电","v":100},{"d":"2018-05-05","s":"CS火电","v":96},{"d":"2018-05-11","s":"CS火电","v":85},{"d":"2018-05-18","s":"CS火电","v":93},{"d":"2018-05-25","s":"CS火电","v":98},{"d":"2018-05-31","s":"CS火电","v":91},{"d":"2018-06-07","s":"CS火电","v":93},{"d":"2018-06-14","s":"CS火电","v":85},{"d":"2018-06-20","s":"CS火电","v":80},{"d":"2018-06-27","s":"CS火电","v":85},{"d":"2018-07-04","s":"CS火电","v":85},{"d":"2018-07-10","s":"CS火电","v":91},{"d":"2018-07-17","s":"CS火电","v":93},{"d":"2018-07-22","s":"CS火电","v":104}
]},
"mark": {"type": "line", "strokeWidth": 2},
"encoding": {
"x": {"field": "d", "type": "temporal",
 "scale": {"type": "utc", "domain": [{"year": 2014, "month": 1, "date": 1, "utc": true}, {"year": 2018, "month": 7, "date": 24, "utc": true}]},
 "axis": {"title": null, "format": "%Y-%m-%d", "tickCount": {"interval": "month", "step": 2}, "labelAngle": 270, "labelFontSize": 20, "labelFont": "Open Sans", "offset": -45, "domainColor": "#d9d9d9", "domainWidth": 1, "labelPadding": 14, "labelOverlap": false, "labelBound": false, "labelFlush": false}},
"y": {"field": "v", "type": "quantitative",
 "scale": {"domain": [-50, 400], "nice": false, "zero": false},
 "axis": {"title": null, "values": [-50, 0, 50, 100, 150, 200, 250, 300, 350, 400], "labelExpr": "datum.value + '%'", "domain": false, "labelFontSize": 22, "labelFont": "Open Sans", "labelPadding": 20}},
"color": {"field": "s", "type": "nominal",
 "scale": {"domain": ["CS燃气", "CS火电", "CS水电", "CS电网"], "range": ["#5B9BD5", "#ED7D31", "#A5A5A5", "#FFC000"]},
 "legend": {"title": null, "orient": "none", "legendX": 154, "legendY": 505, "direction": "horizontal", "columns": 4, "symbolType": "stroke", "symbolSize": 225, "symbolStrokeWidth": 2, "labelFontSize": 23, "labelFont": "Noto Sans CJK SC", "labelColor": "#595959", "columnPadding": 16, "labelOffset": 3}}
}
}
